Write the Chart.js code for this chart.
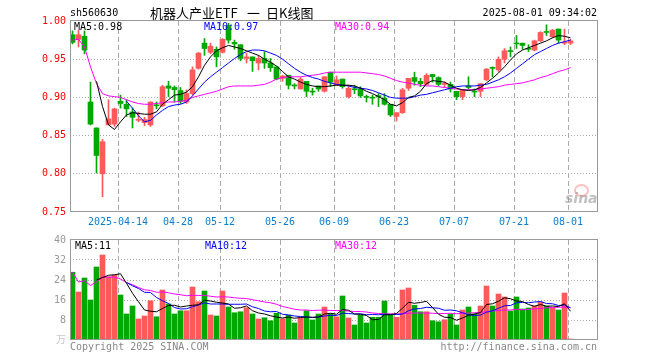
<!DOCTYPE html>
<html><head><meta charset="utf-8">
<script src="https://cdn.jsdelivr.net/npm/chart.js@4.4.1/dist/chart.umd.min.js"></script>
<style>
html,body{margin:0;padding:0;background:#fff;width:660px;height:360px;overflow:hidden;}
#wrap{position:relative;width:660px;height:360px;}
canvas{position:absolute;left:0;}
.t{position:absolute;font-family:"DejaVu Sans Mono",monospace;font-size:10px;line-height:12px;white-space:pre;color:#000;}
.c{position:absolute;font-family:"Noto Sans CJK SC",sans-serif;font-size:13px;line-height:15px;white-space:pre;color:#000;}
</style></head><body>
<div id="wrap">
<canvas id="pc" width="660" height="230" style="top:0"></canvas>
<canvas id="vc" width="660" height="130" style="top:230px"></canvas>
<div class="t" style="left:70px;top:7px">sh560630</div>
<div class="c" style="left:150px;top:5px">机器人产业ETF</div>
<div class="c" style="left:247px;top:5px">一</div>
<div class="c" style="left:266px;top:5px">日K线图</div>
<div class="t" style="right:63px;top:7px">2025-08-01 09:34:02</div>
<div class="t" style="left:74px;top:21px;color:#000">MA5:0.98</div>
<div class="t" style="left:204px;top:21px;color:#0000ff">MA10:0.97</div>
<div class="t" style="left:335px;top:21px;color:#ff00ff">MA30:0.94</div>
<div class="t" style="left:75px;top:240px;color:#000">MA5:11</div>
<div class="t" style="left:205px;top:240px;color:#0000ff">MA10:12</div>
<div class="t" style="left:335px;top:240px;color:#ff00ff">MA30:12</div>
<div class="t" style="left:70px;top:341px;color:#888">Copyright 2025 SINA.COM</div>
<div class="t" style="right:63px;top:341px;color:#888">http://finance.sina.com.cn</div>
<div style="position:absolute;left:574px;top:184px;width:11px;height:9px;border:2px solid rgba(255,110,110,0.45);border-radius:50%;"></div>
<div style="position:absolute;left:565px;top:190px;font-family:'DejaVu Sans',sans-serif;font-weight:bold;font-style:italic;font-size:14px;line-height:16px;color:rgba(140,140,140,0.55);">sina</div>
</div>
<script>
const dates = ['2025-04-01','2025-04-02','2025-04-03','2025-04-07','2025-04-08','2025-04-09','2025-04-10','2025-04-11','2025-04-14','2025-04-15',
'2025-04-16','2025-04-17','2025-04-18','2025-04-21','2025-04-22','2025-04-23','2025-04-24','2025-04-25','2025-04-28','2025-04-29',
'2025-04-30','2025-05-06','2025-05-07','2025-05-08','2025-05-09','2025-05-12','2025-05-13','2025-05-14','2025-05-15','2025-05-16',
'2025-05-19','2025-05-20','2025-05-21','2025-05-22','2025-05-23','2025-05-26','2025-05-27','2025-05-28','2025-05-29','2025-05-30',
'2025-06-03','2025-06-04','2025-06-05','2025-06-06','2025-06-09','2025-06-10','2025-06-11','2025-06-12','2025-06-13','2025-06-16',
'2025-06-17','2025-06-18','2025-06-19','2025-06-20','2025-06-23','2025-06-24','2025-06-25','2025-06-26','2025-06-27','2025-06-30',
'2025-07-01','2025-07-02','2025-07-03','2025-07-04','2025-07-07','2025-07-08','2025-07-09','2025-07-10','2025-07-11','2025-07-14',
'2025-07-15','2025-07-16','2025-07-17','2025-07-18','2025-07-21','2025-07-22','2025-07-23','2025-07-24','2025-07-25','2025-07-28',
'2025-07-29','2025-07-30','2025-07-31','2025-08-01'];

const opens = [0.982,0.976,0.980,0.894,0.860,0.800,0.864,0.865,0.895,0.891,
0.881,0.870,0.867,0.864,0.890,0.889,0.915,0.913,0.909,0.894,
0.905,0.938,0.971,0.959,0.963,0.959,0.994,0.972,0.969,0.951,
0.953,0.945,0.951,0.945,0.940,0.925,0.929,0.916,0.911,0.921,
0.908,0.915,0.908,0.933,0.916,0.924,0.901,0.911,0.911,0.901,
0.900,0.902,0.899,0.891,0.875,0.880,0.912,0.926,0.921,0.917,
0.930,0.926,0.917,0.917,0.908,0.901,0.915,0.908,0.908,0.923,
0.939,0.936,0.950,0.961,0.971,0.971,0.964,0.962,0.974,0.986,
0.9795,0.9895,0.971,0.971];

const highs = [0.987,0.988,0.987,0.920,0.860,0.845,0.897,0.886,0.903,0.897,
0.886,0.881,0.874,0.894,0.894,0.916,0.921,0.915,0.913,0.910,
0.940,0.959,0.977,0.971,0.966,0.977,0.997,0.975,0.969,0.958,
0.953,0.955,0.960,0.951,0.940,0.929,0.929,0.918,0.926,0.921,
0.912,0.915,0.927,0.933,0.928,0.924,0.916,0.916,0.914,0.903,
0.903,0.905,0.905,0.891,0.880,0.912,0.925,0.933,0.925,0.931,
0.930,0.927,0.920,0.920,0.908,0.910,0.927,0.911,0.918,0.938,
0.940,0.953,0.964,0.966,0.981,0.971,0.969,0.975,0.986,0.995,
0.989,0.9895,0.9895,0.976];

const lows = [0.970,0.966,0.957,0.864,0.801,0.770,0.864,0.862,0.886,0.875,
0.860,0.868,0.863,0.862,0.885,0.888,0.901,0.894,0.892,0.892,
0.903,0.937,0.955,0.957,0.940,0.958,0.971,0.963,0.948,0.945,
0.934,0.936,0.938,0.934,0.923,0.921,0.911,0.911,0.911,0.901,
0.903,0.908,0.907,0.914,0.916,0.912,0.899,0.905,0.900,0.894,
0.891,0.888,0.890,0.875,0.869,0.879,0.909,0.916,0.914,0.916,
0.920,0.915,0.913,0.907,0.897,0.897,0.910,0.901,0.901,0.922,
0.927,0.934,0.945,0.953,0.964,0.963,0.960,0.961,0.973,0.981,
0.978,0.971,0.969,0.969];

const closes = [0.972,0.982,0.962,0.865,0.824,0.842,0.872,0.885,0.892,0.885,
0.874,0.871,0.871,0.894,0.889,0.914,0.912,0.910,0.895,0.905,
0.936,0.958,0.964,0.967,0.953,0.976,0.975,0.970,0.951,0.953,
0.948,0.951,0.945,0.939,0.924,0.928,0.916,0.915,0.924,0.908,
0.907,0.911,0.927,0.920,0.923,0.914,0.912,0.910,0.902,0.900,
0.899,0.901,0.891,0.877,0.880,0.910,0.925,0.921,0.918,0.929,
0.927,0.917,0.918,0.911,0.901,0.910,0.913,0.907,0.918,0.937,
0.938,0.950,0.961,0.960,0.970,0.968,0.963,0.974,0.985,0.985,
0.988,0.975,0.972,0.974];

const ma5 = [null,null,null,null,0.921,0.888,0.864,0.858,0.868,0.877,
0.880,0.879,0.878,0.878,0.881,0.891,0.897,0.903,0.904,0.907,
0.914,0.927,0.942,0.953,0.961,0.965,0.968,0.966,0.964,0.961,
0.958,0.955,0.950,0.946,0.941,0.934,0.927,0.924,0.920,0.917,
0.915,0.914,0.914,0.915,0.916,0.916,0.916,0.915,0.912,0.908,
0.905,0.901,0.897,0.891,0.889,0.893,0.900,0.902,0.908,0.918,
0.922,0.921,0.920,0.916,0.912,0.910,0.909,0.910,0.913,0.919,
0.925,0.932,0.940,0.949,0.957,0.962,0.965,0.968,0.971,0.974,
0.978,0.981,0.980,0.978];

const ma10 = [null,null,null,null,null,null,null,null,null,0.895,
0.886,0.876,0.868,0.870,0.877,0.883,0.888,0.890,0.891,0.894,
0.902,0.911,0.920,0.927,0.933,0.939,0.945,0.951,0.956,0.960,
0.962,0.962,0.961,0.958,0.955,0.950,0.944,0.938,0.933,0.929,
0.926,0.924,0.921,0.919,0.917,0.916,0.915,0.913,0.912,0.911,
0.909,0.906,0.903,0.900,0.899,0.899,0.899,0.901,0.903,0.904,
0.906,0.908,0.910,0.912,0.914,0.915,0.915,0.915,0.916,0.917,
0.920,0.923,0.927,0.932,0.938,0.944,0.950,0.956,0.960,0.964,
0.968,0.971,0.973,0.975];

const ma30 = [0.975,0.976,0.966,0.940,0.918,0.905,0.902,0.901,0.900,0.897,
0.894,0.892,0.891,0.891,0.892,0.893,0.894,0.894,0.895,0.896,
0.900,0.902,0.904,0.906,0.908,0.911,0.914,0.915,0.915,0.915,
0.915,0.916,0.917,0.920,0.924,0.926,0.927,0.927,0.927,0.928,
0.929,0.930,0.932,0.933,0.933,0.933,0.933,0.933,0.933,0.932,
0.931,0.930,0.928,0.925,0.922,0.920,0.919,0.917,0.916,0.915,
0.915,0.914,0.913,0.912,0.911,0.910,0.910,0.910,0.911,0.912,
0.913,0.914,0.916,0.917,0.918,0.919,0.921,0.923,0.926,0.928,
0.931,0.934,0.936,0.939];

const volumes = [27.1,19.2,24.8,16.0,29.2,34.0,25.3,26.0,18.0,10.4,
13.6,8.4,9.6,15.7,9.3,20.0,14.4,10.4,11.7,11.7,
21.2,15.3,19.6,10.0,9.6,19.6,13.2,10.9,11.3,12.9,
10.4,8.4,8.9,7.7,10.7,8.5,10.0,6.8,8.9,11.7,
8.0,10.4,13.2,10.4,9.3,17.6,8.8,6.0,10.0,6.8,
9.1,9.1,15.6,9.9,9.1,20.0,20.8,13.9,11.3,11.3,
7.7,7.3,8.1,10.4,6.0,12.0,13.2,10.4,13.6,21.6,
13.6,18.4,17.2,11.6,17.2,12.4,12.8,13.6,15.2,13.6,
12.8,12.0,18.8,0.4];

const volMa5 = [null,null,null,null,24.0,25.0,25.9,26.1,26.5,22.7,
18.7,15.3,12.0,11.5,11.3,12.6,13.8,13.9,13.2,13.6,
13.9,14.1,15.9,15.6,15.1,14.8,14.4,12.7,12.9,13.6,
11.7,10.8,10.4,9.7,9.2,8.8,9.2,8.7,9.0,9.2,
9.1,9.2,10.4,10.7,10.3,12.2,11.9,10.4,10.3,9.8,
8.1,8.2,10.1,10.1,10.6,12.7,15.1,14.7,15.0,15.5,
13.0,10.3,9.1,9.0,7.9,8.8,9.9,10.4,11.0,14.2,
14.5,15.5,16.9,16.5,15.6,15.4,14.2,13.5,14.2,13.5,
13.6,13.4,14.5,11.5];

const volMa10 = [null,null,null,null,null,null,null,null,null,23.0,
21.7,20.6,19.1,19.0,17.0,15.7,14.6,13.0,12.4,12.5,
13.3,14.0,14.9,14.4,14.4,14.4,14.3,14.3,14.3,14.4,
13.3,12.6,11.6,11.3,11.4,10.3,10.0,9.6,9.4,9.2,
9.0,9.2,9.6,9.9,9.8,10.7,10.6,10.4,10.5,10.1,
10.2,10.1,10.3,10.2,10.2,10.4,11.7,12.4,12.6,13.1,
12.9,12.7,11.9,12.0,11.7,10.9,10.1,9.8,10.0,11.1,
11.7,12.7,13.7,13.8,14.9,15.0,14.9,15.2,15.4,14.6,
14.5,13.8,14.0,12.9];

const volMa30 = [27.1,23.2,23.7,21.8,23.3,25.1,25.1,25.2,24.4,23.0,
22.1,21.0,20.1,19.8,19.1,19.2,18.9,18.4,18.1,17.7,
17.9,17.8,17.9,17.5,17.2,17.3,17.2,16.9,16.7,16.6,
16.1,15.7,15.2,14.9,14.3,13.4,12.9,12.3,12.0,12.0,
11.8,11.9,12.0,11.8,11.8,11.8,11.6,11.4,11.4,11.2,
10.8,10.6,10.5,10.5,10.4,10.5,10.7,10.8,10.8,10.8,
10.7,10.6,10.6,10.7,10.5,10.7,10.8,10.9,11.0,11.4,
11.6,11.8,12.0,12.0,12.3,12.1,12.2,12.5,12.6,12.9,
13.0,13.1,13.2,12.9];

const tickDates = ['2025-04-14','2025-04-28','2025-05-12','2025-05-26','2025-06-09','2025-06-23','2025-07-07','2025-07-21','2025-08-01'];
const priceTicks = [0.75,0.80,0.85,0.90,0.95,1.00];
const volTicks = [0,8,16,24,32,40];

// ---- presentation ----
const RED = '#ff5a5a', GREEN = '#00a800';
const GRID = '#aaaaaa';
const SHIFT = 1/12;          // half-pixel alignment for 6px slots
const SLOTS = 527/6;         // plot width / slot width
const tickIdx = tickDates.map(d => dates.indexOf(d));
const colors = closes.map((c,i) => c >= opens[i] ? RED : GREEN);
const pt = (arr) => arr.map((v,i) => ({x: i + 0.5, y: v}));

const framePlugin = {
  id: 'frame',
  afterDraw(chart) {
    const a = chart.chartArea, ctx = chart.ctx;
    ctx.save();
    ctx.strokeStyle = '#999';
    ctx.lineWidth = 1;
    ctx.setLineDash([]);
    ctx.strokeRect(a.left + 0.5, a.top - 0.5, a.right - a.left, a.bottom - a.top);
    ctx.restore();
  }
};

const monoFont = {family: 'DejaVu Sans Mono, Noto Sans CJK SC', size: 10};

function xAxis(showLabels, height) {
  return {
    type: 'linear', min: SHIFT, max: SLOTS + SHIFT, offset: false,
    afterBuildTicks: s => { s.ticks = tickIdx.map(v => ({value: v + SHIFT})); },
    afterFit: s => { s.height = height; },
    grid: {display: true, color: GRID, lineWidth: 1, drawTicks: false, offset: false},
    border: {display: false, dash: [5, 3]},
    ticks: {display: showLabels, autoSkip: false, maxRotation: 0, padding: 4, color: '#0a7fd0',
      font: monoFont,
      callback: (v, k) => k === 0 ? tickDates[0] : tickDates[k].slice(5)}
  };
}

function lineDs(label, arr, color) {
  return {type: 'line', label, data: pt(arr), borderColor: color, backgroundColor: color,
    borderWidth: 1, pointRadius: 0, tension: 0, spanGaps: false, order: 0};
}

const common = {
  responsive: false, animation: false, events: [],
  plugins: {legend: {display: false}, tooltip: {enabled: false}, title: {display: false}},
};

new Chart(document.getElementById('pc'), {
  type: 'bar',
  data: {datasets: [
    lineDs('MA5', ma5, '#000000'),
    lineDs('MA10', ma10, '#0000ff'),
    lineDs('MA30', ma30, '#ff00ff'),
    {type: 'bar', label: 'body', data: dates.map((d,i) => ({x: i + 0.5, y: [opens[i], closes[i]]})),
      backgroundColor: colors, borderWidth: 0, barThickness: 5, grouped: false, minBarLength: 1, order: 1},
    {type: 'bar', label: 'wick', data: dates.map((d,i) => ({x: i + 0.5, y: [lows[i], highs[i]]})),
      backgroundColor: colors, borderWidth: 0, barThickness: 1, grouped: false, order: 2}
  ]},
  options: Object.assign({}, common, {
    layout: {padding: {left: 0, right: 63, top: 21, bottom: 0}},
    scales: {
      x: xAxis(true, 18),
      y: {type: 'linear', min: priceTicks[0], max: priceTicks[priceTicks.length-1],
        afterBuildTicks: s => { s.ticks = priceTicks.map(v => ({value: v})); },
        afterFit: s => { s.width = 70; },
        grid: {drawTicks: false, lineWidth: 1,
          color: c => (c.tick && (c.tick.value === priceTicks[0] || c.tick.value === priceTicks[priceTicks.length-1])) ? 'rgba(0,0,0,0)' : GRID},
        border: {display: false, dash: [1, 2]},
        ticks: {padding: 4, color: '#ff0000', font: monoFont, callback: v => Number(v).toFixed(2)}
      }
    }
  }),
  plugins: [framePlugin]
});

new Chart(document.getElementById('vc'), {
  type: 'bar',
  data: {datasets: [
    lineDs('MA5', volMa5, '#000000'),
    lineDs('MA10', volMa10, '#0000ff'),
    lineDs('MA30', volMa30, '#ff00ff'),
    {type: 'bar', label: 'vol', data: pt(volumes), backgroundColor: colors, borderWidth: 0,
      barThickness: 5, grouped: false, order: 1}
  ]},
  options: Object.assign({}, common, {
    layout: {padding: {left: 0, right: 63, top: 10, bottom: 0}},
    scales: {
      x: xAxis(false, 20),
      y: {type: 'linear', min: volTicks[0], max: volTicks[volTicks.length-1],
        afterBuildTicks: s => { s.ticks = volTicks.map(v => ({value: v})); },
        afterFit: s => { s.width = 70; },
        grid: {drawTicks: false, lineWidth: 1,
          color: c => (c.tick && (c.tick.value === volTicks[0] || c.tick.value === volTicks[volTicks.length-1])) ? 'rgba(0,0,0,0)' : GRID},
        border: {display: false, dash: [1, 2]},
        ticks: {padding: 4, font: monoFont,
          color: c => (c.tick && c.tick.value === 0) ? '#c8c8c8' : '#999999',
          callback: v => v === 0 ? '万' : String(v)}
      }
    }
  }),
  plugins: [framePlugin]
});
</script>
</body></html>
